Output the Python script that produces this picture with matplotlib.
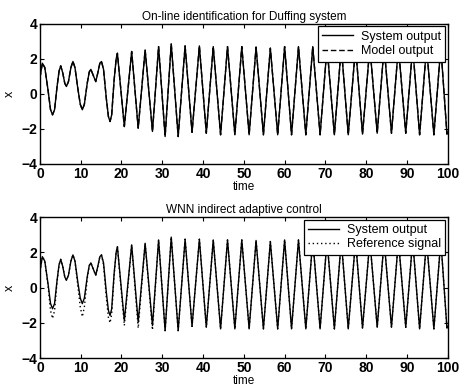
import matplotlib
matplotlib.use('Agg')
import matplotlib.pyplot as plt
import numpy as np

plt.rcParams['font.family'] = ['Liberation Sans', 'DejaVu Sans']

# system output (early part densely, later peaks/troughs)
t_early = [0.0, 0.6, 1.2, 2.0, 2.6, 3.1, 3.6, 4.2, 4.7, 5.1, 5.6, 6.1, 6.5, 7.0,
           7.6, 8.1, 8.6, 9.3, 9.9, 10.4, 10.9, 11.6, 12.1, 12.5, 13.0, 13.7,
           14.2, 14.7, 15.1, 15.6, 16.3, 16.8, 17.2, 17.6, 18.2, 18.7, 19.0]
x_early = [0.9, 1.75, 1.5, 0.2, -0.9, -1.2, -0.9, 0.4, 1.3, 1.6, 1.2, 0.6, 0.42, 0.7,
           1.5, 1.85, 1.5, 0.3, -0.6, -0.91, -0.6, 0.6, 1.25, 1.4, 1.1, 0.7,
           1.2, 1.75, 1.85, 1.4, -0.3, -1.3, -1.58, -1.2, 0.8, 2.0, 2.32]

t_late = [20.7, 22.5, 24.1, 25.8, 27.6, 29.1, 30.7, 32.2, 33.9, 35.6, 37.3, 39.1,
          40.8, 42.5, 44.3, 46.0, 47.8, 49.5, 51.3, 53.0, 54.8, 56.5, 58.3, 60.0,
          61.7, 63.4, 65.2, 66.9, 68.7, 70.4, 72.2, 73.9, 75.6, 77.4, 79.1, 80.9,
          82.7, 84.4, 86.2, 87.9, 89.7, 91.4, 93.1, 94.8, 96.6, 98.3, 99.8, 100.0]
x_late = [-1.87, 2.42, -1.96, 2.51, -2.15, 2.7, -2.44, 2.86, -2.44, 2.74, -2.2, 2.74,
          -2.25, 2.7, -2.34, 2.7, -2.34, 2.7, -2.34, 2.67, -2.34, 2.61, -2.34, 2.7,
          -2.34, 2.7, -2.34, 2.7, -2.34, 2.68, -2.34, 2.68, -2.34, 2.68, -2.3, 2.68,
          -2.25, 2.68, -2.25, 2.68, -2.25, 2.68, -2.34, 2.68, -2.34, 2.68, -2.3, -2.2]

# reference signal: deeper troughs in the first 30 s, then same as system
ref_early = [0.9, 1.75, 1.5, 0.1, -1.3, -1.75, -1.3, 0.3, 1.3, 1.6, 1.2, 0.6, 0.42, 0.7,
             1.5, 1.85, 1.5, 0.1, -1.1, -1.65, -1.1, 0.5, 1.25, 1.4, 1.1, 0.7,
             1.2, 1.75, 1.85, 1.3, -0.6, -1.7, -2.0, -1.5, 0.7, 2.0, 2.32]
ref_late_start = [-2.15, 2.42, -2.3, 2.51, -2.4]

t_sys = np.array(t_early + t_late)
x_sys = np.array(x_early + x_late)
x_model = x_sys.copy()
x_ref = np.array(ref_early + ref_late_start + x_late[len(ref_late_start):])

fig = plt.figure(figsize=(4.64, 3.91), dpi=100)
ax1 = fig.add_axes([0.086, 0.581, 0.879, 0.358])
ax2 = fig.add_axes([0.086, 0.084, 0.879, 0.361])

for ax, other, style, lab2, title in [
        (ax1, x_model, (0, (4, 2)), 'Model output', 'On-line identification for Duffing system'),
        (ax2, x_ref, (0, (1, 2)), 'Reference signal', 'WNN indirect adaptive control')]:
    ax.plot(t_sys, x_sys, color='black', lw=1.0, label='System output')
    ax.plot(t_sys, other, color='black', lw=1.0, linestyle=style, label=lab2)
    ax.set_xlim(0, 100)
    ax.set_ylim(-4, 4)
    ax.set_xticks(range(0, 101, 10))
    ax.set_yticks([-4, -2, 0, 2, 4])
    ax.tick_params(direction='in', top=True, right=True, length=3,
                   labelsize=10, pad=2)
    for lbl in ax.get_xticklabels() + ax.get_yticklabels():
        lbl.set_fontweight('bold')
    for s in ax.spines.values():
        s.set_linewidth(1.0)
    ax.set_title(title, fontsize=8.5, pad=3)
    ax.set_xlabel('time', fontsize=8.5, labelpad=0)
    ax.set_ylabel('x', fontsize=9, labelpad=4)
    leg = ax.legend(loc='upper right', fontsize=9, frameon=True, fancybox=False,
                    framealpha=1, edgecolor='black', borderaxespad=0.2,
                    handlelength=2.5, borderpad=0.35, labelspacing=0.2,
                    handletextpad=0.6)
    leg.get_frame().set_linewidth(0.9)

fig.savefig('out.png', dpi=100)
